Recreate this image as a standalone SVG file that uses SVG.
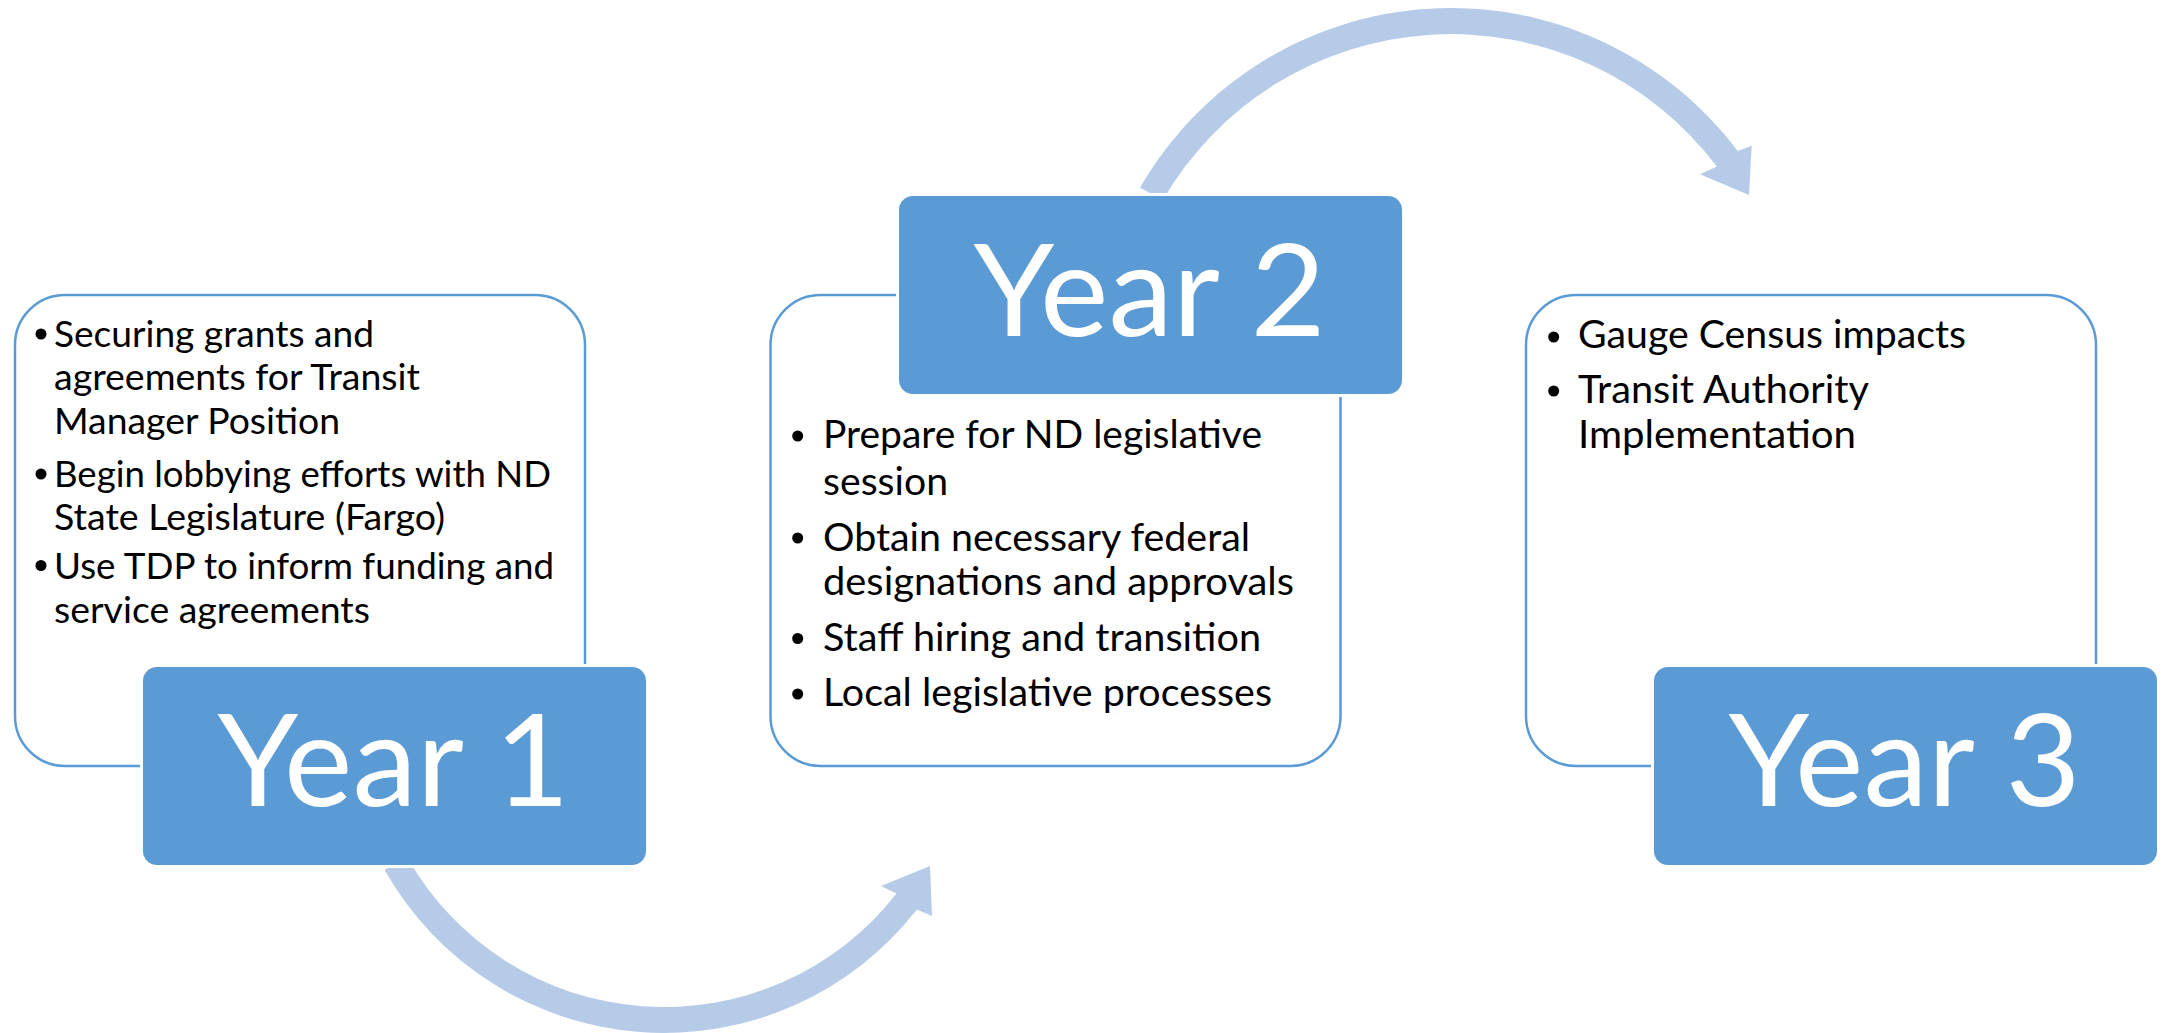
<svg xmlns="http://www.w3.org/2000/svg" width="2163" height="1033" viewBox="0 0 2163 1033">
  <style>
    .panel { fill: #ffffff; stroke: #5B9BD5; stroke-width: 2.5; }
    .tab { fill: #5B9BD5; stroke: #ffffff; stroke-width: 6; paint-order: stroke; }
    .year { font-family: Lato, "Liberation Sans", sans-serif; font-size: 128px; fill: #ffffff; text-anchor: middle; }
    .item { font-family: Lato, "Liberation Sans", sans-serif; fill: #000000; }
    .s1 { font-size: 36.5px; }
    .s2 { font-size: 38px; }
    .dot { fill: #000000; }
    .arrow { fill: #B6CBE8; }
  </style>
  <rect width="2163" height="1033" fill="#ffffff"/>

  <!-- curved arrows between the year steps -->
  <g id="connectors">
    <path id="arrow-1-2" class="arrow" d="M 384.6 870.1 A 321 321 0 0 0 916.9 909.6 L 932 916 L 930 866 L 881 886 L 896.5 893.6 A 295 295 0 0 1 407.2 857.3 Z"/>
    <path id="arrow-2-3" class="arrow" d="M 1140.1 187.5 A 359 359 0 0 1 1737.7 151.0 L 1751.7 145.7 L 1749 195 L 1700 174.3 L 1716.9 166.6 A 333 333 0 0 0 1162.6 200.5 Z"/>
  </g>

  <!-- Year 1 -->
  <g id="year1">
    <rect class="panel" x="15" y="295" width="570" height="471" rx="50"/>
    <circle class="dot" cx="41" cy="334" r="5.5"/>
    <circle class="dot" cx="41" cy="474" r="5.5"/>
    <circle class="dot" cx="41" cy="565.5" r="5.5"/>
    <text class="item s1" x="54" y="347" textLength="320" lengthAdjust="spacingAndGlyphs">Securing grants and</text>
    <text class="item s1" x="54" y="390" textLength="366" lengthAdjust="spacingAndGlyphs">agreements for Transit</text>
    <text class="item s1" x="54" y="434" textLength="286" lengthAdjust="spacingAndGlyphs">Manager Position</text>
    <text class="item s1" x="54" y="487" textLength="497" lengthAdjust="spacingAndGlyphs">Begin lobbying efforts with ND</text>
    <text class="item s1" x="54" y="530" textLength="391" lengthAdjust="spacingAndGlyphs">State Legislature (Fargo)</text>
    <text class="item s1" x="54" y="578.5" textLength="500" lengthAdjust="spacingAndGlyphs">Use TDP to inform funding and</text>
    <text class="item s1" x="54" y="622.5" textLength="316" lengthAdjust="spacingAndGlyphs">service agreements</text>
    <rect class="tab" x="143" y="667" width="503" height="198" rx="14"/>
    <text class="year" x="393.5" y="806" textLength="352" lengthAdjust="spacingAndGlyphs">Year 1</text>
  </g>

  <!-- Year 2 -->
  <g id="year2">
    <rect class="panel" x="770.5" y="295" width="570" height="471" rx="50"/>
    <circle class="dot" cx="797.7" cy="436" r="5.5"/>
    <circle class="dot" cx="797.7" cy="538" r="5.5"/>
    <circle class="dot" cx="797.7" cy="638.5" r="5.5"/>
    <circle class="dot" cx="797.7" cy="694" r="5.5"/>
    <text class="item s2" x="823" y="448" textLength="439" lengthAdjust="spacingAndGlyphs">Prepare for ND legislative</text>
    <text class="item s2" x="823" y="494.6" textLength="125" lengthAdjust="spacingAndGlyphs">session</text>
    <text class="item s2" x="823" y="550.5" textLength="427" lengthAdjust="spacingAndGlyphs">Obtain necessary federal</text>
    <text class="item s2" x="823" y="595.2" textLength="471" lengthAdjust="spacingAndGlyphs">designations and approvals</text>
    <text class="item s2" x="823" y="650.7" textLength="438" lengthAdjust="spacingAndGlyphs">Staff hiring and transition</text>
    <text class="item s2" x="823" y="706.2" textLength="449" lengthAdjust="spacingAndGlyphs">Local legislative processes</text>
    <rect class="tab" x="899" y="196" width="503" height="198" rx="14"/>
    <text class="year" x="1149.5" y="336" textLength="352" lengthAdjust="spacingAndGlyphs">Year 2</text>
  </g>

  <!-- Year 3 -->
  <g id="year3">
    <rect class="panel" x="1526" y="295" width="570" height="471" rx="50"/>
    <circle class="dot" cx="1553.7" cy="337" r="5.5"/>
    <circle class="dot" cx="1553.7" cy="391" r="5.5"/>
    <text class="item s2" x="1578" y="348" textLength="388" lengthAdjust="spacingAndGlyphs">Gauge Census impacts</text>
    <text class="item s2" x="1578" y="402.5" textLength="291" lengthAdjust="spacingAndGlyphs">Transit Authority</text>
    <text class="item s2" x="1578" y="448.4" textLength="278" lengthAdjust="spacingAndGlyphs">Implementation</text>
    <rect class="tab" x="1654" y="667" width="503" height="198" rx="14"/>
    <text class="year" x="1904.5" y="806" textLength="352" lengthAdjust="spacingAndGlyphs">Year 3</text>
  </g>
</svg>
